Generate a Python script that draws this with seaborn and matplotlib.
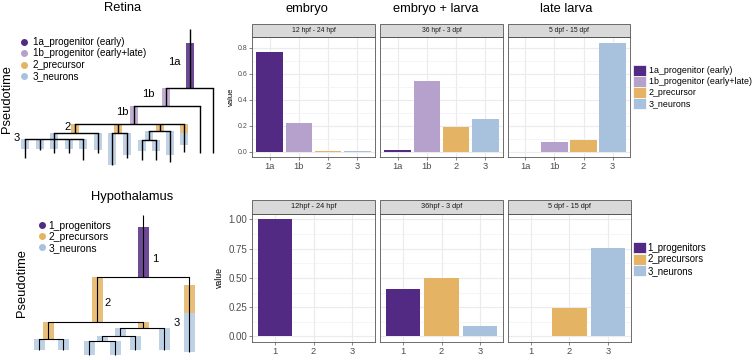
import matplotlib
matplotlib.use("Agg")
import matplotlib.pyplot as plt
import seaborn as sns
import pandas as pd
from matplotlib.patches import Rectangle, Patch
from matplotlib.lines import Line2D
from matplotlib.ticker import FixedLocator

# ---- bar chart data ----
retina_states = ["1a", "1b", "2", "3"]
retina_names = ["1a_progenitor (early)", "1b_progenitor (early+late)", "2_precursor", "3_neurons"]
retina_colors = ["#522A83", "#B6A0CC", "#E4B363", "#A8C2DD"]
retina_stages = ["12 hpf - 24 hpf", "36 hpf - 3 dpf", "5 dpf - 15 dpf"]
retina_titles = ["embryo", "embryo + larva", "late larva"]
retina_early = [0.765, 0.222, 0.006, 0.007]
retina_mid = [0.015, 0.541, 0.190, 0.251]
retina_late = [0.0, 0.077, 0.091, 0.834]

hypo_states = ["1", "2", "3"]
hypo_names = ["1_progenitors", "2_precursors", "3_neurons"]
hypo_colors = ["#522A83", "#E4B363", "#A8C2DD"]
hypo_stages = ["12hpf - 24 hpf", "36hpf - 3 dpf", "5 dpf - 15 dpf"]
hypo_early = [1.0, 0.002, 0.002]
hypo_mid = [0.405, 0.500, 0.092]
hypo_late = [0.004, 0.240, 0.758]

# ---- lineage trees: branch x, pseudotime at branch end, parent branch ----
ret_tree_x = [190, 213, 166, 200, 134, 75, 118, 160, 184, 98, 54,
              25, 40, 54, 69, 83, 112, 127, 170, 149, 142, 156]
ret_tree_t = [88, 153, 106, 153, 124, 133, 133, 131, 152, 153, 139,
              158, 150, 153, 153, 160, 165, 158, 162, 140, 160, 160]
ret_tree_parent = [-1, 0, 0, 2, 2, 4, 4, 4, 4, 5, 5,
                   10, 10, 10, 10, 10, 6, 6, 7, 7, 19, 19]
ret_tree_start = 29
# cells along branches: branch, state, pseudotime from / to
ret_cell_node = [0, 2, 4, 5, 6, 7, 8, 8, 9, 10, 11, 12, 13, 14, 15, 16, 17, 18, 19, 20, 21]
ret_cell_state = [0, 1, 1, 2, 2, 2, 2, 3, 3, 3, 3, 3, 3, 3, 3, 3, 3, 3, 3, 3, 3]
ret_cell_from = [43, 88, 106, 124, 124, 124, 124, 133, 133, 133, 139, 139, 139, 139, 139,
                 133, 133, 131, 131, 140, 140]
ret_cell_to = [88, 106, 124, 133, 133, 131, 133, 145, 150, 139, 149, 149, 149, 149, 149,
               165, 155, 155, 140, 151, 151]
ret_labels = ["1a", "1b", "1b", "2", "3"]

hyp_tree_x = [143, 189, 97, 48, 143, 39, 63, 164, 120, 135, 102, 89, 115]
hyp_tree_t = [277, 352, 322, 339, 328, 350, 350, 350, 336, 350, 341, 355, 355]
hyp_tree_parent = [-1, 0, 0, 2, 2, 3, 3, 4, 4, 8, 8, 10, 10]
hyp_tree_start = 215
hyp_cell_node = [0, 2, 1, 1, 3, 4, 5, 6, 7, 8, 9, 10, 11, 12]
hyp_cell_state = [0, 1, 1, 2, 1, 1, 2, 2, 2, 2, 2, 2, 2, 2]
hyp_cell_from = [227, 277, 285, 313, 322, 322, 339, 339, 328, 328, 336, 336, 341, 341]
hyp_cell_to = [277, 322, 313, 352, 339, 328, 350, 350, 350, 336, 350, 341, 355, 355]
hyp_labels = ["1", "2", "3"]

W, H = 753, 360
plt.rcParams["font.family"] = ["Liberation Sans", "DejaVu Sans"]
fig = plt.figure(figsize=(W / 100, H / 100), dpi=100)


def px_axes(x0, y0, x1, y1):
    return fig.add_axes([x0 / W, 1 - y1 / H, (x1 - x0) / W, (y1 - y0) / H])


def draw_tree(ax, xs, ts, parents, t0, nodes, states, t_from, t_to, colors, hw, lw):
    # cell clouds first, branches on top
    for n, s, a, b in zip(nodes, states, t_from, t_to):
        ax.add_patch(Rectangle((xs[n] - hw, a), 2 * hw, b - a, facecolor=colors[s],
                               alpha=0.85 if s < len(colors) - 1 else 0.75, lw=0, zorder=2))
    for i, (x, t, p) in enumerate(zip(xs, ts, parents)):
        top = t0 if p < 0 else ts[p]
        ax.plot([x, x], [top, t], color="black", lw=lw, solid_capstyle="butt", zorder=3)
        kids = [xs[j] for j, q in enumerate(parents) if q == i]
        if kids:
            ax.plot([min(kids + [x]), max(kids + [x])], [t, t], color="black", lw=lw,
                    solid_capstyle="projecting", zorder=3)


def bar_panel(ax, states, values, colors, stage, ylim, yticks, yminor, strip_px,
              show_y, ytick_size, xtick_size, strip_size):
    df = pd.DataFrame({"state": states, "value": values})
    sns.barplot(data=df, x="state", y="value", hue="state", order=states, hue_order=states,
                palette=colors, width=0.9, saturation=1, errorbar=None, legend=False,
                linewidth=0, ax=ax)
    ax.set_xlim(-0.6, len(states) - 0.4)
    ax.set_ylim(*ylim)
    ax.set_yticks(yticks)
    ax.yaxis.set_minor_locator(FixedLocator(yminor))
    ax.set_axisbelow(True)
    ax.grid(which="major", color="#EBEBEB", lw=0.8)
    ax.grid(which="minor", axis="y", color="#F2F2F2", lw=0.5)
    for sp in ax.spines.values():
        sp.set_color("#555555")
        sp.set_linewidth(0.6)
    ax.tick_params(which="major", length=2, width=0.5, color="#555555", labelcolor="#4D4D4D", pad=1.5)
    ax.tick_params(which="minor", length=0)
    ax.tick_params(axis="x", labelsize=xtick_size)
    ax.tick_params(axis="y", labelsize=ytick_size)
    ax.set_xlabel("")
    if not show_y:
        ax.set_ylabel("")
        ax.tick_params(axis="y", labelleft=False, length=0)
    # facet strip
    h = strip_px / (ax.get_position().height * H)
    ax.add_patch(Rectangle((0, 1), 1, h, transform=ax.transAxes, clip_on=False,
                           facecolor="#D9D9D9", edgecolor="#555555", lw=0.6))
    ax.text(0.5, 1 + h / 2, stage, transform=ax.transAxes, ha="center", va="center",
            fontsize=strip_size, color="#1A1A1A")


# ---- Retina tree ----
ax_rt = px_axes(0, 0, 225, 180)
ax_rt.set_xlim(0, 225)
ax_rt.set_ylim(180, 0)
ax_rt.axis("off")
draw_tree(ax_rt, ret_tree_x, ret_tree_t, ret_tree_parent, ret_tree_start,
          ret_cell_node, ret_cell_state, ret_cell_from, ret_cell_to, retina_colors, 4, 1.0)
for lab, pos in zip(ret_labels, [(174, 62), (148, 94), (122, 112), (68, 127), (17, 138)]):
    ax_rt.text(pos[0], pos[1], lab, fontsize=8, ha="center", va="center")
ax_rt.text(123, 8, "Retina", fontsize=9.3, ha="center", va="center")
ax_rt.text(7, 99, "Pseudotime", fontsize=9.3, rotation=90, ha="center", va="center")
ax_rt.legend(handles=[Line2D([], [], marker="o", ls="", color=c, markersize=4) for c in retina_colors],
             labels=retina_names, loc="upper left", bbox_to_anchor=(20 / W, 1 - 37 / H),
             bbox_transform=fig.transFigure, frameon=False, fontsize=7.1, handlelength=0.8,
             handletextpad=0.5, labelspacing=0.15, borderpad=0, borderaxespad=0)

# ---- Hypothalamus tree ----
ax_ht = px_axes(0, 180, 225, 360)
ax_ht.set_xlim(0, 225)
ax_ht.set_ylim(360, 180)
ax_ht.axis("off")
draw_tree(ax_ht, hyp_tree_x, hyp_tree_t, hyp_tree_parent, hyp_tree_start,
          hyp_cell_node, hyp_cell_state, hyp_cell_from, hyp_cell_to, hypo_colors, 5.5, 0.8)
for lab, pos in zip(hyp_labels, [(155, 259), (108, 303), (177, 323)]):
    ax_ht.text(pos[0], pos[1], lab, fontsize=8, ha="center", va="center")
ax_ht.text(132, 197, "Hypothalamus", fontsize=9.3, ha="center", va="center")
ax_ht.text(22, 283, "Pseudotime", fontsize=9.3, rotation=90, ha="center", va="center")
ax_ht.legend(handles=[Line2D([], [], marker="o", ls="", color=c, markersize=4) for c in hypo_colors],
             labels=hypo_names, loc="upper left", bbox_to_anchor=(39 / W, 1 - 221 / H),
             bbox_transform=fig.transFigure, frameon=False, fontsize=7.4, handlelength=0.6,
             handletextpad=0.3, labelspacing=0.1, borderpad=0, borderaxespad=0)

# ---- Retina bars ----
ret_x = [(252, 375), (380, 503), (508, 630)]
for k, vals in enumerate([retina_early, retina_mid, retina_late]):
    ax = px_axes(ret_x[k][0], 37, ret_x[k][1], 157)
    bar_panel(ax, retina_states, vals, retina_colors, retina_stages[k], (-0.042, 0.882),
              [0, 0.2, 0.4, 0.6, 0.8], [0.1, 0.3, 0.5, 0.7], 13, k == 0, 5, 6.7, 4.9)
    if k == 0:
        ax.set_ylabel("value", fontsize=5.5, labelpad=2)
for cx, title in zip([307, 436, 566], retina_titles):
    fig.text(cx / W, 1 - 9 / H, title, fontsize=9.3, ha="center", va="center")
fig.legend(handles=[Patch(facecolor=c, edgecolor="white", lw=0.5) for c in retina_colors],
           labels=retina_names, loc="upper left", bbox_to_anchor=(633 / W, 1 - 65 / H),
           frameon=False, fontsize=6.4, handlelength=1.45, handleheight=1.45,
           handletextpad=0.35, labelspacing=0.05, borderpad=0, borderaxespad=0)

# ---- Hypothalamus bars ----
hyp_x = [(252, 375), (380, 503), (508, 631)]
for k, vals in enumerate([hypo_early, hypo_mid, hypo_late]):
    ax = px_axes(hyp_x[k][0], 213.5, hyp_x[k][1], 342.3)
    bar_panel(ax, hypo_states, vals, hypo_colors, hypo_stages[k], (-0.05, 1.05),
              [0, 0.25, 0.5, 0.75, 1.0], [0.125, 0.375, 0.625, 0.875], 14, k == 0, 7, 6.7, 5.3)
    if k == 0:
        ax.set_yticklabels(["0.00", "0.25", "0.50", "0.75", "1.00"])
        ax.set_ylabel("value", fontsize=6.3, labelpad=3)
fig.legend(handles=[Patch(facecolor=c, edgecolor="white", lw=0.5) for c in hypo_colors],
           labels=hypo_names, loc="upper left", bbox_to_anchor=(633 / W, 1 - 242 / H),
           frameon=False, fontsize=6.9, handlelength=1.4, handleheight=1.4,
           handletextpad=0.12, labelspacing=0.05, borderpad=0, borderaxespad=0)

fig.savefig("out.png", dpi=100)
